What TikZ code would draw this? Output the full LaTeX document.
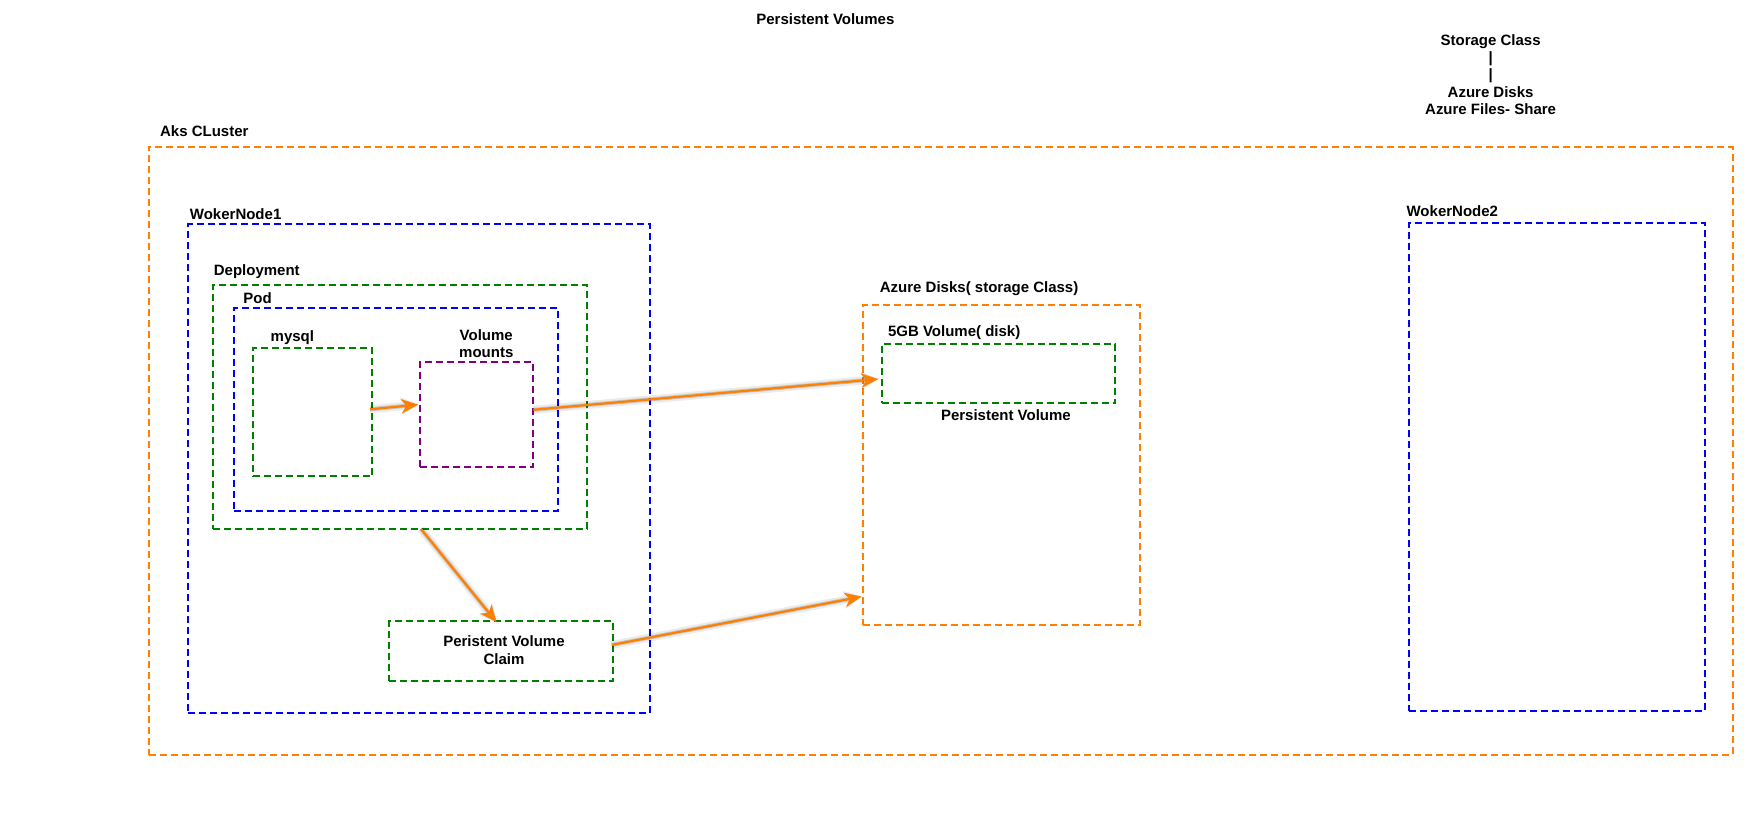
\documentclass[tikz,border=0pt]{standalone}
\usepackage{fontspec}
\setmainfont{Liberation Sans}
\usetikzlibrary{fit,arrows.meta,calc}
\definecolor{aorange}{HTML}{FF8000}
\definecolor{ablue}{HTML}{0000FF}
\definecolor{agreen}{HTML}{008000}
\definecolor{apurple}{HTML}{800080}
\begin{document}
\begin{tikzpicture}[x=1.12pt,y=-1.12pt,
  lbl/.style={font=\fontsize{15}{17.3}\selectfont\bfseries, inner sep=0pt, outer sep=0pt, text=black},
  frame/.style={draw=#1, dash pattern=on 7pt off 4pt, line width=2pt, inner sep=0pt, outer sep=0pt},
  conn/.style={draw=aorange, line width=2.2pt, -{Stealth[length=17pt,width=14pt,inset=5pt]}},
  shadA/.style={draw=black, opacity=0.08, line width=8pt, -{Stealth[length=17pt,width=18pt,inset=5pt]}, shift={(2,4)}},
  shadB/.style={draw=black, opacity=0.16, line width=4pt, -{Stealth[length=17pt,width=15pt,inset=5pt]}, shift={(2,3.5)}},
]
\useasboundingbox (0,0) rectangle (1568,727.68);

% frames
\node[frame=aorange, fit={(133,131) (1547,674)}] (aks) {};
\node[frame=ablue, fit={(168,200.3) (580.4,636.6)}] (wn1) {};
\node[frame=agreen, fit={(190.2,254.7) (524.4,472.3)}] (deploy) {};
\node[frame=ablue, fit={(209,275) (498.2,456.3)}] (pod) {};
\node[frame=agreen, fit={(225.9,310.7) (332.4,425.3)}] (mysql) {};
\node[frame=apurple, fit={(375,323.2) (476.2,416.7)}] (vm) {};
\node[frame=agreen, fit={(347.6,554.5) (547.3,608)}] (pvc) {};
\node[frame=aorange, fit={(770.5,272.3) (1018,558)}] (azure) {};
\node[frame=agreen, fit={(787.5,307.1) (996,360)}] (vol5) {};
\node[frame=ablue, fit={(1258,199) (1522.3,634.6)}] (wn2) {};

% labels
\node[lbl, anchor=base] (title) at (737,21.5) {Persistent Volumes};
\node[lbl, align=center] (sc) at (1331,66.4) {Storage Class\\|\\|\\Azure Disks\\Azure Files- Share};
\node[lbl, anchor=base west] (aksl) at (143,122) {Aks CLuster};
\node[lbl, anchor=base west] (wn1l) at (169.6,195.6) {WokerNode1};
\node[lbl, anchor=base west] (depl) at (191,246) {Deployment};
\node[lbl, anchor=base west] (podl) at (217.3,271.4) {Pod};
\node[lbl, anchor=base west] (mysqll) at (241.7,304.5) {mysql};
\node[lbl, align=center] (vml) at (434.2,307) {Volume\\mounts};
\node[lbl, anchor=base west] (azl) at (785.7,261) {Azure Disks( storage Class)};
\node[lbl, anchor=base west] (vol5l) at (793,300.6) {5GB Volume( disk)};
\node[lbl, anchor=base] (pvl) at (898.2,375.6) {Persistent Volume};
\node[lbl, align=center] (pvcl) at (450,580.5) {Peristent Volume\\Claim};
\node[lbl, anchor=base west] (wn2l) at (1256,193) {WokerNode2};

% connector shadows
\foreach \s in {shadA,shadB}{
  \draw[\s] ([xshift=-2.2pt,yshift=2.8pt]mysql.east) -- ([xshift=-1.7pt,yshift=9.7pt]vm.west);
  \draw[\s] ([yshift=4.5pt]vm.east) -- ([xshift=-3.7pt,yshift=-5.5pt]vol5.west);
  \draw[\s] ([xshift=20.8pt]deploy.south) -- ([xshift=-4.5pt,yshift=-1.3pt]pvc.north);
  \draw[\s] ([xshift=-1.2pt,yshift=6pt]pvc.east) -- ([xshift=-1.3pt,yshift=28.3pt]azure.south west);
}

% connectors
\draw[conn] ([xshift=-2.2pt,yshift=2.8pt]mysql.east) -- ([xshift=-1.7pt,yshift=9.7pt]vm.west);
\draw[conn] ([yshift=4.5pt]vm.east) -- ([xshift=-3.7pt,yshift=-5.5pt]vol5.west);
\draw[conn] ([xshift=20.8pt]deploy.south) -- ([xshift=-4.5pt,yshift=-1.3pt]pvc.north);
\draw[conn] ([xshift=-1.2pt,yshift=6pt]pvc.east) -- ([xshift=-1.3pt,yshift=28.3pt]azure.south west);
\end{tikzpicture}
\end{document}
